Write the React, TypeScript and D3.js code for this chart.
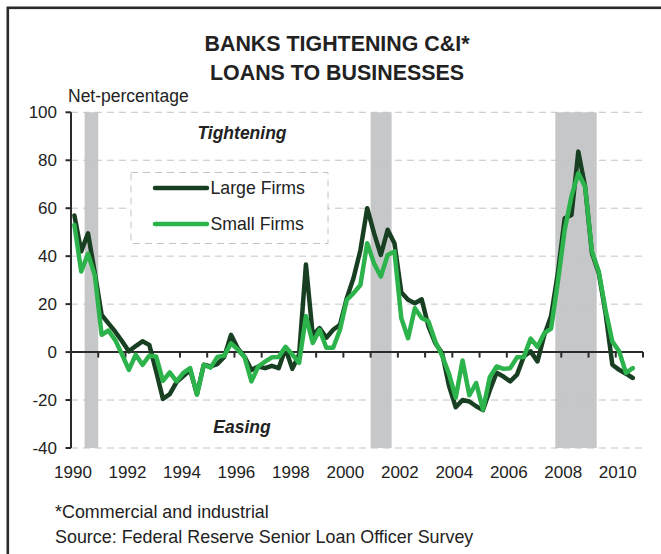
import React from "react";
import * as d3 from "d3";

const startYear = 1990;
const largeFirms = [
  57, 42, 49.5, 33, 15.5, 12, 8.5, 4.5, 0.3, 2.5, 4.5, 3, -8, -19.5, -17.5, -12.5,
  -10, -7.5, -17.5, -5.3, -6, -5, -2, 7.2, 1.5, -2, -7.5, -6, -6.7, -5.7, -6.7, 1.5,
  -7, -1, 36.5, 7, 10, 6, 9.3, 11.4, 22.5, 31, 42.5, 60, 49.6, 40.5, 51, 45.4,
  25, 21.8, 20.4, 22, 10.7, 3.7, -0.4, -14, -23, -20, -20.6, -22.6, -24.2, -16, -8.6, -10.2,
  -12.2, -9.4, -1.8, 0.3, -3.9, 7, 15, 33, 55.8, 57.2, 83.6, 69, 41.3, 33, 16.3, -5.3,
  -7.4, -9, -10.8,
];
const smallFirms = [
  53, 33.6, 41, 32, 7.2, 9, 5, -1, -7.4, -1.1, -5.3, -1.5, -1.8, -12, -8.5, -12.2,
  -8.7, -6.7, -17.8, -5.3, -6.5, -2, -1.5, 3.6, 1, -2.2, -12.2, -6, -4, -2.2, -2, 2.2,
  -1, -4.5, 15, 3.8, 9.3, 1.8, 1.8, 9.3, 21.8, 24.6, 28, 45.4, 37, 31.5, 40.5, 42,
  14.2, 5.8, 18.3, 14.2, 12.8, 4.4, -1.5, -9, -19, -3.5, -18, -12.9, -24, -10.5, -6, -7,
  -6.7, -2.2, -2, 5.6, 2.2, 7.9, 9.8, 29.4, 51, 65, 74.6, 69, 42, 33.6, 17.6, 4.4,
  0.3, -8.7, -6.7,
];
const recessions: [number, number][] = [
  [1990.5, 1991.0],
  [2001.0, 2001.77],
  [2007.78, 2009.3],
];
const yTicks = [100, 80, 60, 40, 20, 0, -20, -40];
const xTickYears = d3.range(1990, 2012);
const xLabelYears = [1990, 1992, 1994, 1996, 1998, 2000, 2002, 2004, 2006, 2008, 2010];
const titleLines = ["BANKS TIGHTENING C&I*", "LOANS TO BUSINESSES"];
const footnotes = ["*Commercial and industrial", "Source: Federal Reserve Senior Loan Officer Survey"];

const DARK = "#183f21";
const GREEN = "#2cb34b";
const FONT = "'Liberation Sans', Arial, Helvetica, sans-serif";

export default function App() {
  const W = 661;
  const H = 554;
  const x = d3.scaleLinear().domain([1990, 2011]).range([71, 643]);
  const y = d3.scaleLinear().domain([-40, 100]).range([448, 112.3]);

  const toPts = (vals: number[]) =>
    vals.map((v, i) => [startYear + (i + 0.5) / 4, v] as [number, number]);
  const line = d3
    .line<[number, number]>()
    .x((d) => x(d[0]))
    .y((d) => y(d[1]));

  return (
    <div style={{ position: "absolute", left: 0, top: 0 }}>
      <svg width={W} height={H} style={{ display: "block", fontFamily: FONT }}>
        <rect x={0} y={0} width={W} height={H} fill="#fff" />
        <rect x={7.8} y={7.8} width={W + 20} height={H + 20} fill="none" stroke="#2a2a2a" strokeWidth={2.6} />

        {titleLines.map((t, i) => (
          <text key={t} x={337} y={51 + i * 28.5} textAnchor="middle" fontWeight="bold" fontSize={21.4} fill="#222">
            {t}
          </text>
        ))}

        <text x={68} y={102} fontSize={17.5} fill="#222">Net-percentage</text>

        {recessions.map(([a, b], i) => (
          <rect key={i} x={x(a)} y={y(100)} width={x(b) - x(a)} height={y(-40) - y(100)} fill="#c6c7c9" />
        ))}

        {yTicks.filter((t) => t !== 0).map((t) => (
          <line key={t} x1={71} x2={643} y1={y(t)} y2={y(t)} stroke="#c4c4c4" strokeWidth={1} strokeDasharray="7,5" />
        ))}

        {/* y axis */}
        <line x1={71} x2={71} y1={y(100)} y2={y(-40)} stroke="#2a2a2a" strokeWidth={2} />
        {yTicks.map((t) => (
          <g key={t}>
            <line x1={65.5} x2={71} y1={y(t)} y2={y(t)} stroke="#2a2a2a" strokeWidth={2} />
            <text x={57} y={y(t)} dy="0.36em" textAnchor="end" fontSize={17} fill="#222">
              {t}
            </text>
          </g>
        ))}

        {/* zero axis */}
        <line x1={71} x2={643} y1={y(0)} y2={y(0)} stroke="#2a2a2a" strokeWidth={2} />
        {xTickYears.map((yr) => (
          <line key={yr} x1={x(yr)} x2={x(yr)} y1={y(0)} y2={y(0) + 5.5} stroke="#2a2a2a" strokeWidth={2} />
        ))}
        {xLabelYears.map((yr) => (
          <text key={yr} x={x(yr) + 2} y={478} textAnchor="middle" fontSize={17} fill="#222">
            {yr}
          </text>
        ))}

        <text x={242} y={139} textAnchor="middle" fontWeight="bold" fontStyle="italic" fontSize={17.5} fill="#222">
          Tightening
        </text>
        <text x={242} y={433} textAnchor="middle" fontWeight="bold" fontStyle="italic" fontSize={17.5} fill="#222">
          Easing
        </text>

        {/* legend */}
        <rect x={131} y={172.5} width={197} height={71} fill="#fff" stroke="#c4c4c4" strokeWidth={1} strokeDasharray="7,5" />
        <line x1={155} x2={207} y1={188} y2={188} stroke={DARK} strokeWidth={4.5} strokeLinecap="round" />
        <text x={210.5} y={188} dy="0.36em" fontSize={17.7} fill="#222">Large Firms</text>
        <line x1={155} x2={207} y1={224} y2={224} stroke={GREEN} strokeWidth={4.5} strokeLinecap="round" />
        <text x={210.5} y={224} dy="0.36em" fontSize={17.7} fill="#222">Small Firms</text>

        <path d={line(toPts(largeFirms)) || ""} fill="none" stroke={DARK} strokeWidth={4.5} strokeLinejoin="round" strokeLinecap="round" />
        <path d={line(toPts(smallFirms)) || ""} fill="none" stroke={GREEN} strokeWidth={4.5} strokeLinejoin="round" strokeLinecap="round" />

        {footnotes.map((f, i) => (
          <text key={f} x={55} y={518 + i * 25} fontSize={17.9} fill="#222">
            {f}
          </text>
        ))}
      </svg>
    </div>
  );
}
